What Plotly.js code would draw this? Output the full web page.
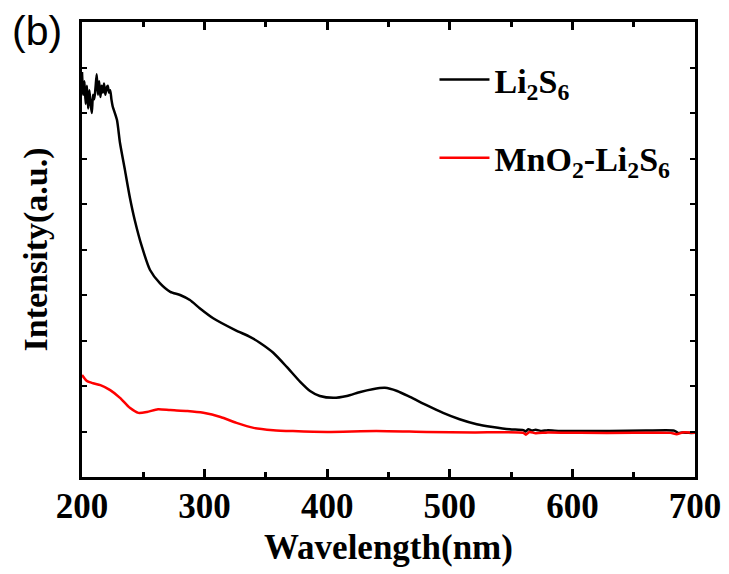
<!DOCTYPE html>
<html>
<head>
<meta charset="utf-8">
<script src="https://cdn.plot.ly/plotly-3.0.1.min.js"></script>
<style>html,body{margin:0;padding:0;background:#fff;}#chart{width:729px;height:574px;}</style>
</head>
<body>
<div id="chart"></div>
<script>
// Li2S6 spectrum (wavelength nm, intensity a.u.)
var li2s6Wavelength = [200,201,202,203,204,205,206,207,208,209,210,211,212,213,214,215,216,217,218,219,220,221,222,223,224,225,
  228.5,231,235,239,243,249,255.5,263.5,272,280,288,296,307,325,337,345,356,367,378,386,394,405,416,427,437,447,457,467.5,481,494.5,508,522,535,549,560,562,564,567,570,575,580,590,606,630,660,683,686,690,695,700];
var li2s6Intensity = [8.9,8.4,8.7,8.2,8.6,8.1,8.5,8.2,8.0,8.4,8.3,8.55,8.85,8.4,8.7,8.35,8.6,8.45,8.65,8.4,8.55,8.6,8.45,8.5,8.3,8.15,
  7.85,7.34,6.75,6.15,5.65,5.05,4.55,4.26,4.07,4.0,3.89,3.71,3.49,3.23,3.08,2.95,2.73,2.42,2.09,1.89,1.78,1.74,1.78,1.87,1.93,1.96,1.89,1.76,1.58,1.41,1.27,1.16,1.10,1.05,1.03,1.0,1.05,1.02,1.04,1.01,1.03,1.01,1.01,1.01,1.02,1.02,0.97,0.98,0.97,0.97];

// MnO2-Li2S6 spectrum
var mno2Wavelength = [200,204,209,215,223,231,239,246,253,262,272,286,299,313,326,340,356,372,400,440,481,520,560,562,565,570,580,606,650,680,685,690,700];
var mno2Intensity = [2.24,2.11,2.06,2.02,1.91,1.74,1.52,1.41,1.43,1.49,1.47,1.45,1.41,1.32,1.19,1.08,1.03,1.01,0.99,1.01,0.99,0.98,0.97,0.93,0.99,0.96,0.98,0.97,0.97,0.97,0.94,0.98,0.97];

var seriesNames = ['Li<sub>2</sub>S<sub>6</sub>', 'MnO<sub>2</sub>-Li<sub>2</sub>S<sub>6</sub>'];
var xTickValues = [200,300,400,500,600,700];

var serif = '"Liberation Serif", "Times New Roman", serif';

var traces = [
  {x: li2s6Wavelength, y: li2s6Intensity, type: 'scatter', mode: 'lines', name: seriesNames[0],
   line: {color: '#000000', width: 2.5, shape: 'spline', smoothing: 0.6}, legend: 'legend'},
  {x: mno2Wavelength, y: mno2Intensity, type: 'scatter', mode: 'lines', name: seriesNames[1],
   line: {color: '#ff0000', width: 2.5, shape: 'spline', smoothing: 0.6}, legend: 'legend2'}
];

var legendFont = {family: serif, size: 34, color: '#000', weight: 'bold'};

var layout = {
  width: 729, height: 574,
  margin: {l: 82, r: 34, t: 22, b: 97},
  paper_bgcolor: '#fff', plot_bgcolor: '#fff',
  showlegend: true,
  xaxis: {
    range: [200, 700], tickvals: xTickValues, ticktext: xTickValues.map(String),
    ticks: 'inside', ticklen: 8, tickwidth: 3, tickcolor: '#000',
    minor: {dtick: 50, ticks: 'inside', ticklen: 5, tickwidth: 3, tickcolor: '#000'},
    showline: true, linewidth: 3, linecolor: '#000', mirror: 'allticks',
    showgrid: false, zeroline: false,
    tickfont: {family: serif, size: 35, color: '#000', weight: 'bold'},
    ticklabelstandoff: -4,
    title: {text: 'Wavelength(nm)', font: {family: serif, size: 35, color: '#000', weight: 'bold'}, standoff: 10}
  },
  yaxis: {
    range: [0, 10], dtick: 1, showticklabels: false,
    ticks: 'inside', ticklen: 5, tickwidth: 2, tickcolor: '#000',
    showline: true, linewidth: 3, linecolor: '#000', mirror: 'allticks',
    showgrid: false, zeroline: false,
    title: {text: 'Intensity(a.u.)', font: {family: serif, size: 34, color: '#000', weight: 'bold'}, standoff: 22}
  },
  legend: {x: 0.575, y: 0.873, xanchor: 'left', yanchor: 'middle', bgcolor: 'rgba(0,0,0,0)', font: legendFont, itemwidth: 50},
  legend2: {x: 0.575, y: 0.701, xanchor: 'left', yanchor: 'middle', bgcolor: 'rgba(0,0,0,0)', font: legendFont, itemwidth: 50},
  annotations: [
    {text: '(b)', xref: 'paper', yref: 'paper', x: -0.1175, y: 1.035, xanchor: 'left', yanchor: 'top', showarrow: false,
     font: {family: '"Liberation Sans", Arial, sans-serif', size: 41, color: '#000'}}
  ]
};

Plotly.newPlot('chart', traces, layout, {displayModeBar: false, staticPlot: true});
</script>
</body>
</html>
